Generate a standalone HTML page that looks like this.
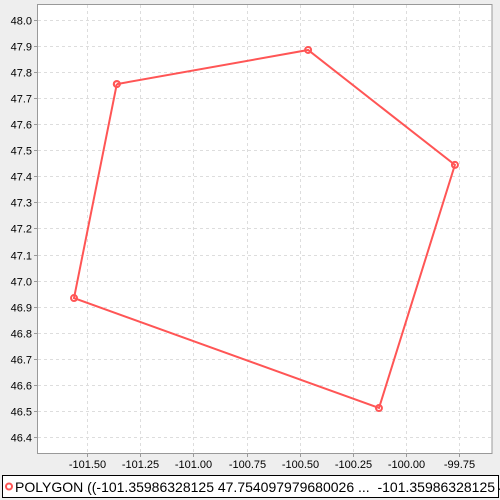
<!DOCTYPE html>
<html><head><meta charset="utf-8"><style>
html,body{margin:0;padding:0;background:#eeeeee;}
svg{display:block;font-family:"Liberation Sans","DejaVu Sans",sans-serif;}
</style></head><body>
<svg id="c" width="500" height="500">
<rect x="0" y="0" width="500" height="500" fill="#eeeeee"/>
<rect x="37.5" y="4.5" width="454.5" height="449" fill="#ffffff" stroke="#999999"/>
<g id="grid"></g>
<g id="ticks"></g>
<g id="series"></g>
<g>
<rect x="2.5" y="475.5" width="496" height="22" fill="#ffffff" stroke="#000000"/>
<circle cx="9" cy="486.5" r="3" fill="none" stroke="#ff5555" stroke-width="2"/>
<text x="15" y="492" font-size="14" fill="#000" xml:space="preserve">POLYGON ((-101.35986328125 47.754097979680026 ...  -101.35986328125 47.754097979680026</text>
</g>
</svg>
<script>
const xTicks=[-101.5,-101.25,-101.0,-100.75,-100.5,-100.25,-100.0,-99.75];
const xTickLabels=["-101.50","-101.25","-101.00","-100.75","-100.50","-100.25","-100.00","-99.75"];
const yTicks=[48.0,47.9,47.8,47.7,47.6,47.5,47.4,47.3,47.2,47.1,47.0,46.9,46.8,46.7,46.6,46.5,46.4];
const yTickLabels=["48.0","47.9","47.8","47.7","47.6","47.5","47.4","47.3","47.2","47.1","47.0","46.9","46.8","46.7","46.6","46.5","46.4"];
const lons=[-101.35986328125,-100.461,-99.771,-100.128,-101.561,-101.35986328125];
const lats=[47.754097979680026,47.885,47.444,46.511,46.933,47.754097979680026];
const NS='http://www.w3.org/2000/svg';
function X(v){return 87+(v+101.5)*212.8;}
function Y(v){return 20+(48-v)*260.6;}
const grid=document.getElementById('grid'),ticks=document.getElementById('ticks'),ser=document.getElementById('series');
function mk(tag,attrs,parent){const e=document.createElementNS(NS,tag);for(const k in attrs)e.setAttribute(k,attrs[k]);parent.appendChild(e);return e;}
xTicks.forEach((v,i)=>{
 const x=Math.round(X(v))+0.5;
 const g=mk('line',{x1:x,x2:x,y1:5,y2:453,stroke:'#dddddd','stroke-dasharray':'3,3'},grid);
 
 
 const t=mk('line',{x1:x,x2:x,y1:454,y2:457,stroke:'#999'},ticks);
 
 
 const l=mk('text',{x:x,y:468,'font-size':'11','text-anchor':'middle',fill:'#000'},ticks);
 l.textContent=xTickLabels[i];
 
 
});
yTicks.forEach((v,i)=>{
 const y=Math.round(Y(v))+0.5;
 const g=mk('line',{x1:38,x2:491,y1:y,y2:y,stroke:'#dddddd','stroke-dasharray':'3,3'},grid);
 
 
 const t=mk('line',{x1:34,x2:37,y1:y,y2:y,stroke:'#999'},ticks);
 
 
 const l=mk('text',{x:32,y:y+4,'font-size':'11','text-anchor':'end',fill:'#000'},ticks);
 l.textContent=yTickLabels[i];
 
 
});
const pts=lons.map((v,i)=>X(v).toFixed(1)+','+Y(lats[i]).toFixed(1)).join(' ');
const pl=mk('polyline',{points:pts,fill:'none',stroke:'#ff5555','stroke-width':'2'},ser);


lons.forEach((v,i)=>{
 const c=mk('circle',{cx:X(v),cy:Y(lats[i]),r:3,fill:'none',stroke:'#ff5555','stroke-width':'2'},ser);
 
 
});
</script>
</body></html>
